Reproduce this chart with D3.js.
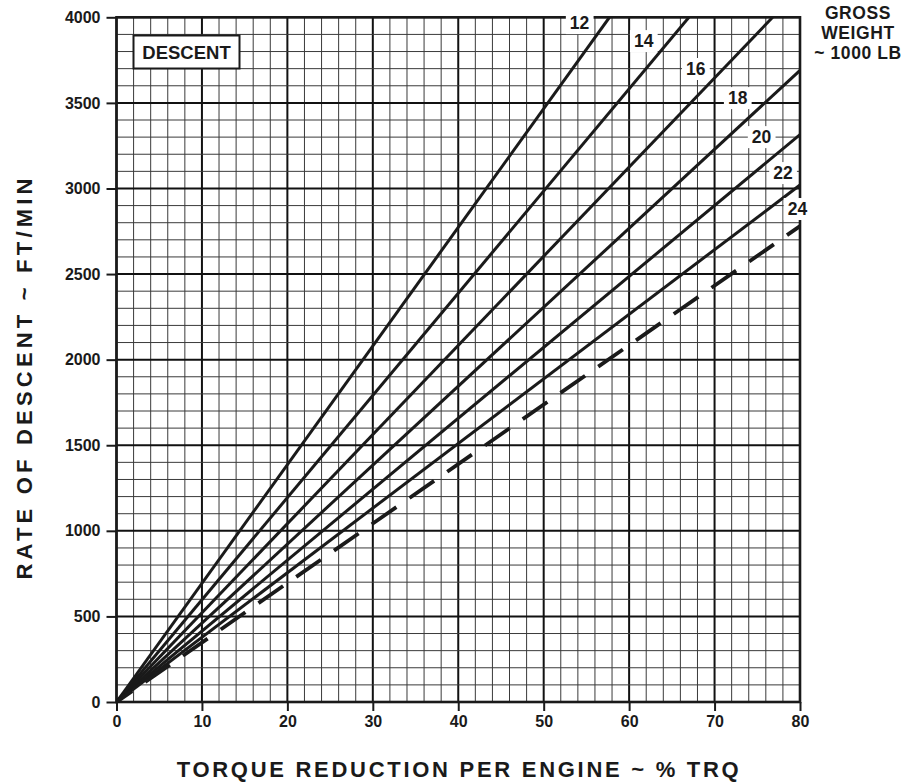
<!DOCTYPE html>
<html>
<head>
<meta charset="utf-8">
<script src="https://cdn.jsdelivr.net/npm/d3@7"></script>
<style>
  html, body { margin: 0; padding: 0; background: #fff; }
  svg { display: block; }
  text { font-family: "Liberation Sans", Arial, Helvetica, sans-serif; font-weight: bold; fill: #1a1a1a; }
</style>
</head>
<body>
<svg id="chart" width="908" height="783"></svg>
<script>
// Gross weight curves (x 1000 lb)
const weights = [12, 14, 16, 18, 20, 22, 24];
// Each curve runs from the origin to where it leaves the grid:
// torque reduction (% TRQ) and rate of descent (ft/min) at that end point
const endTorque = [57.7, 67.0, 76.8, 80, 80, 80, 80];
const endRate   = [4000, 4000, 4000, 3690, 3315, 3020, 2780];
// Axis tick labels
const xTicks = [0, 10, 20, 30, 40, 50, 60, 70, 80];
const yTicks = [0, 500, 1000, 1500, 2000, 2500, 3000, 3500, 4000];

const svg = d3.select("#chart");
const ink = "#1a1a1a";

const x = d3.scaleLinear().domain([0, 80]).range([116.5, 800]);
const y = d3.scaleLinear().domain([0, 4000]).range([702, 17.3]);

// Grid: fine lines every 2 % and 100 ft/min, heavier every 10 % and 500 ft/min
const grid = svg.append("g");
d3.range(0, 81, 2).forEach(v => {
  const major = v % 10 === 0;
  grid.append("line")
    .attr("x1", x(v)).attr("x2", x(v)).attr("y1", y(0)).attr("y2", y(4000))
    .attr("stroke", major ? "#111" : "#3a3a3a").attr("stroke-width", major ? 2 : 1);
});
d3.range(0, 4001, 100).forEach(v => {
  const major = v % 500 === 0;
  grid.append("line")
    .attr("y1", y(v)).attr("y2", y(v)).attr("x1", x(0)).attr("x2", x(80))
    .attr("stroke", major ? "#111" : "#3a3a3a").attr("stroke-width", major ? 2 : 1);
});

// Axes
const xAxis = d3.axisBottom(x).tickValues(xTicks).tickSize(9).tickPadding(5).tickFormat(d3.format("d"));
const yAxis = d3.axisLeft(y).tickValues(yTicks).tickSize(10).tickPadding(6).tickFormat(d3.format("d"));
const gx = svg.append("g").attr("transform", `translate(0,${y(0)})`).call(xAxis);
const gy = svg.append("g").attr("transform", `translate(${x(0)},0)`).call(yAxis);
[gx, gy].forEach(g => {
  g.select(".domain").remove();
  g.selectAll(".tick line").attr("stroke", ink).attr("stroke-width", 2);
  g.selectAll(".tick text").style("font-size", "16px").style("font-family", "Liberation Sans, Arial, sans-serif")
    .style("font-weight", "bold").attr("fill", ink);
});

// Plot border
svg.append("rect")
  .attr("x", x(0)).attr("y", y(4000))
  .attr("width", x(80) - x(0)).attr("height", y(0) - y(4000))
  .attr("fill", "none").attr("stroke", ink).attr("stroke-width", 2.6);

// Weight curves; the heaviest weight is drawn dashed
const curves = weights.map((w, i) => ({ w, pts: [[0, 0], [endTorque[i], endRate[i]]] }));
const line = d3.line().x(d => x(d[0])).y(d => y(d[1]));
svg.append("clipPath").attr("id", "plot-clip").append("rect")
  .attr("x", x(0)).attr("y", y(4000)).attr("width", x(80) - x(0)).attr("height", y(0) - y(4000));
svg.append("g").attr("clip-path", "url(#plot-clip)")
  .selectAll("path").data(curves).join("path")
  .attr("d", d => line(d.pts))
  .attr("fill", "none").attr("stroke", ink)
  .attr("stroke-width", d => d.w === 24 ? 3.8 : 3)
  .attr("stroke-dasharray", d => d.w === 24 ? "30,16" : null)
  .attr("stroke-dashoffset", d => d.w === 24 ? 11 : null);

// Curve labels on white patches
const labelAt = {
  12: [54.2, 3966], 14: [61.7, 3861], 16: [67.8, 3698], 18: [72.7, 3528],
  20: [75.5, 3300], 22: [78.0, 3090], 24: [79.7, 2880]
};
const lbl = svg.append("g");
weights.forEach(w => {
  const [tx, ty] = labelAt[w];
  const g = lbl.append("g").attr("transform", `translate(${x(tx)},${y(ty)})`);
  const t = g.append("text").attr("text-anchor", "middle").attr("dy", "0.36em")
    .style("font-size", "17.5px").text(w);
  const bb = t.node().getBBox();
  g.insert("rect", "text").attr("x", bb.x - 4).attr("y", -11).attr("width", bb.width + 8).attr("height", 22)
    .attr("fill", "#fff");
});

// DESCENT box
const db = svg.append("g");
db.append("rect").attr("x", 133.5).attr("y", 35.5).attr("width", 106).attr("height", 33)
  .attr("fill", "#fff").attr("stroke", ink).attr("stroke-width", 2);
db.append("text").attr("x", 186.5).attr("y", 52).attr("dy", "0.36em").attr("text-anchor", "middle")
  .style("font-size", "18.5px").text("DESCENT");

// Legend title for the curve family
const gw = svg.append("text").attr("text-anchor", "middle").style("font-size", "17.5px").style("letter-spacing", "0.6px");
[["GROSS", 18.5], ["WEIGHT", 38.5], ["~ 1000 LB", 58.5]].forEach(([s, yy]) =>
  gw.append("tspan").attr("x", 858).attr("y", yy).text(s));

// Axis titles, spaced out to their printed width
function spread(sel, target) {
  const n = sel.text().length;
  const w = sel.node().getComputedTextLength();
  sel.style("letter-spacing", ((target - w) / (n - 1)) + "px");
}
const xt = svg.append("text").attr("x", 459).attr("y", 777).attr("text-anchor", "middle")
  .style("font-size", "22px").text("TORQUE REDUCTION PER ENGINE ~ % TRQ");
spread(xt, 562);
const yt = svg.append("text").attr("transform", "translate(32,377) rotate(-90)").attr("text-anchor", "middle")
  .style("font-size", "22px").text("RATE OF DESCENT ~ FT/MIN");
spread(yt, 401);
</script>
</body>
</html>
